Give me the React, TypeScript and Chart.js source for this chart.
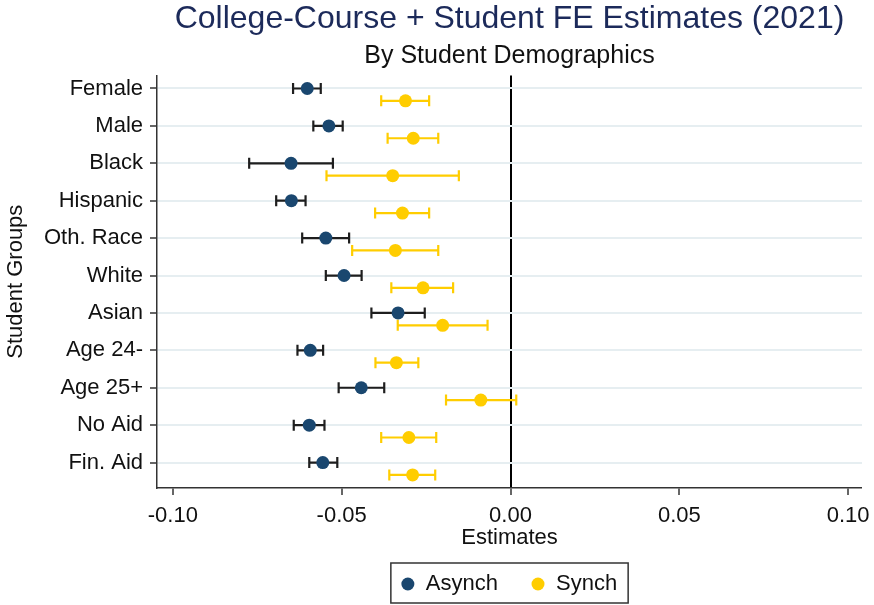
import React, { useEffect, useRef } from "react";
import { Chart, registerables } from "chart.js";

Chart.register(...registerables);

const categories = ["Female", "Male", "Black", "Hispanic", "Oth. Race", "White", "Asian", "Age 24-", "Age 25+", "No Aid", "Fin. Aid"];

const asynchEst = [-0.0602, -0.0538, -0.0650, -0.0649, -0.0547, -0.0493, -0.0333, -0.0593, -0.0442, -0.0596, -0.0556];
const asynchLo = [-0.0644, -0.0584, -0.0774, -0.0694, -0.0617, -0.0547, -0.0412, -0.0631, -0.0509, -0.0642, -0.0596];
const asynchHi = [-0.0562, -0.0497, -0.0526, -0.0607, -0.0478, -0.0441, -0.0254, -0.0555, -0.0374, -0.0551, -0.0513];

const synchEst = [-0.0311, -0.0288, -0.0349, -0.0320, -0.0341, -0.0259, -0.0201, -0.0338, -0.0088, -0.0301, -0.0290];
const synchLo = [-0.0383, -0.0364, -0.0545, -0.0401, -0.0469, -0.0353, -0.0334, -0.0400, -0.0191, -0.0383, -0.0359];
const synchHi = [-0.0241, -0.0214, -0.0153, -0.0241, -0.0214, -0.0170, -0.0068, -0.0273, 0.0017, -0.0220, -0.0223];

const xTicks = [-0.1, -0.05, 0, 0.05, 0.1];

const seriesNames = ["Asynch", "Synch"];
const SYNCH_OFFSET = 0.33;

const NAVY = "#1a476f";
const GOLD = "#ffcd00";
const FONT = "'Liberation Sans', Arial, sans-serif";

const errorBarPlugin = {
  id: "errorBars",
  beforeDatasetsDraw(chart: any) {
    const ctx = chart.ctx;
    const xs = chart.scales.x;
    chart.data.datasets.forEach((ds: any, di: number) => {
      const meta = chart.getDatasetMeta(di);
      ctx.save();
      ctx.strokeStyle = ds.errColor;
      ctx.lineWidth = 2.2;
      ds.errLo.forEach((lo: number, i: number) => {
        const el = meta.data[i];
        if (!el) return;
        const y = el.y;
        const x1 = xs.getPixelForValue(lo);
        const x2 = xs.getPixelForValue(ds.errHi[i]);
        const cap = 5.5;
        ctx.beginPath();
        ctx.moveTo(x1, y);
        ctx.lineTo(x2, y);
        ctx.moveTo(x1, y - cap);
        ctx.lineTo(x1, y + cap);
        ctx.moveTo(x2, y - cap);
        ctx.lineTo(x2, y + cap);
        ctx.stroke();
      });
      ctx.restore();
    });
  },
};

const boxLegendPlugin = {
  id: "boxLegend",
  afterDraw(chart: any) {
    const ctx = chart.ctx;
    const area = chart.chartArea;
    const items = chart.data.datasets.map((ds: any) => ({ text: ds.label, color: ds.backgroundColor }));
    ctx.save();
    ctx.font = `22px ${FONT}`;
    const padL = 17, circToText = 18, itemGap = 40, padR = 11, r = 6.5;
    let total = padL + padR;
    items.forEach((it: any, i: number) => {
      total += circToText + ctx.measureText(it.text).width;
      if (i < items.length - 1) total += itemGap;
    });
    const cx = (area.left + area.right) / 2;
    const boxTop = chart.height - 42;
    const boxH = 40;
    const left = cx - total / 2;
    ctx.strokeStyle = "#333";
    ctx.lineWidth = 1.5;
    ctx.strokeRect(left, boxTop, total, boxH);
    const midY = boxTop + boxH / 2 + 1;
    let x = left + padL;
    items.forEach((it: any) => {
      ctx.fillStyle = it.color;
      ctx.beginPath();
      ctx.arc(x, midY, r, 0, Math.PI * 2);
      ctx.fill();
      ctx.fillStyle = "#111";
      ctx.textBaseline = "middle";
      ctx.textAlign = "left";
      ctx.fillText(it.text, x + circToText, midY);
      x += circToText + ctx.measureText(it.text).width + itemGap;
    });
    ctx.restore();
  },
};

export default function App() {
  const ref = useRef<HTMLCanvasElement | null>(null);

  useEffect(() => {
    if (!ref.current) return;
    Chart.defaults.font.family = FONT;
    const chart = new Chart(ref.current, {
      type: "scatter",
      data: {
        datasets: [
          {
            label: seriesNames[0],
            data: asynchEst.map((v, i) => ({ x: v, y: i })),
            backgroundColor: NAVY,
            borderColor: NAVY,
            pointRadius: 6.5,
            pointBorderWidth: 0,
            errLo: asynchLo,
            errHi: asynchHi,
            errColor: "#1e1e1e",
          } as any,
          {
            label: seriesNames[1],
            data: synchEst.map((v, i) => ({ x: v, y: i + SYNCH_OFFSET })),
            backgroundColor: GOLD,
            borderColor: GOLD,
            pointRadius: 6.5,
            pointBorderWidth: 0,
            errLo: synchLo,
            errHi: synchHi,
            errColor: GOLD,
          } as any,
        ],
      },
      options: {
        animation: false,
        responsive: false,
        layout: { padding: { left: 0, right: 12, top: 0, bottom: 54 } },
        plugins: {
          legend: { display: false },
          tooltip: { enabled: false },
          title: {
            display: true,
            text: "College-Course + Student FE Estimates (2021)",
            color: "#1c2a5a",
            fullSize: false,
            font: { size: 32, weight: "normal", family: FONT },
            padding: { top: 0, bottom: 0 },
          },
          subtitle: {
            display: true,
            text: "By Student Demographics",
            color: "#111",
            fullSize: false,
            font: { size: 25, weight: "normal", family: FONT },
            padding: { top: 3, bottom: 4 },
          },
        },
        scales: {
          x: {
            type: "linear",
            min: -0.1047,
            max: 0.1041,
            afterBuildTicks: (s: any) => {
              s.ticks = xTicks.map((v) => ({ value: v }));
            },
            afterFit: (s: any) => {
              s.height = 63;
              s.paddingLeft = 0;
              s.paddingRight = 0;
            },
            ticks: {
              color: "#111",
              font: { size: 22, family: FONT },
              padding: 8,
              maxRotation: 0,
              callback: (v: any) => Number(v).toFixed(2),
            },
            grid: {
              drawOnChartArea: true,
              color: (c: any) => (c.tick && c.tick.value === 0 ? "#000" : "rgba(0,0,0,0)"),
              lineWidth: (c: any) => (c.tick && c.tick.value === 0 ? 2 : 0),
              tickColor: "#333",
              tickLength: 7,
              tickWidth: 1.5,
            },
            border: { display: true, color: "#333", width: 1.5 },
            title: {
              display: true,
              text: "Estimates",
              color: "#111",
              font: { size: 22, family: FONT },
              padding: { top: 0, bottom: 0 },
            },
          },
          y: {
            type: "linear",
            reverse: true,
            min: -0.35,
            max: 10.68,
            afterBuildTicks: (s: any) => {
              s.ticks = categories.map((_, i) => ({ value: i }));
            },
            afterFit: (s: any) => {
              s.width = 157;
            },
            ticks: {
              color: "#111",
              font: { size: 22, family: FONT },
              padding: 7,
              callback: (v: any) => categories[Math.round(Number(v))] ?? "",
            },
            grid: {
              color: "#e6eef1",
              lineWidth: 2,
              tickColor: "#333",
              tickLength: 7,
              tickWidth: 1.5,
            },
            border: { display: true, color: "#333", width: 1.5 },
            title: {
              display: true,
              text: "Student Groups",
              color: "#111",
              font: { size: 22, family: FONT },
              padding: { top: 3, bottom: 0 },
            },
          },
        },
      } as any,
      plugins: [errorBarPlugin, boxLegendPlugin],
    });
    return () => chart.destroy();
  }, []);

  return (
    <div style={{ position: "absolute", left: 0, top: 0, width: 874, height: 605, background: "#fff" }}>
      <canvas ref={ref} width={874} height={605} style={{ display: "block" }} />
    </div>
  );
}
